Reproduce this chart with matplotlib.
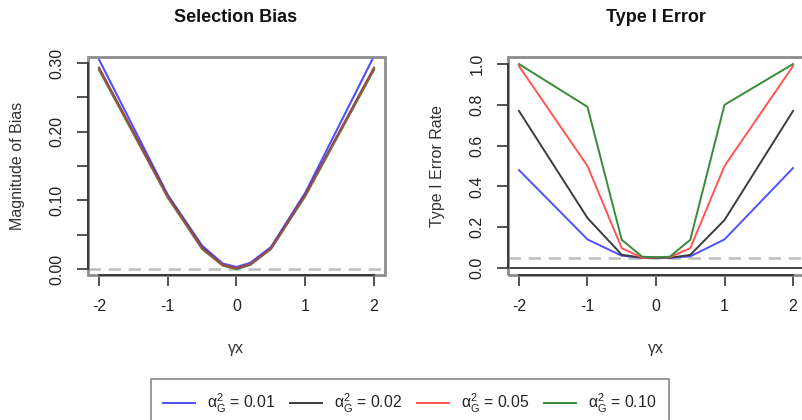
import numpy as np
import matplotlib
matplotlib.use("Agg")
import matplotlib.pyplot as plt
from matplotlib.patches import Rectangle

plt.rcParams['font.family'] = ['Liberation Sans', 'DejaVu Sans']
plt.rcParams['mathtext.fontset'] = 'custom'
plt.rcParams['mathtext.rm'] = 'Liberation Sans'
plt.rcParams['mathtext.it'] = 'Liberation Sans'

# Effect size of the exposure on selection
gamma_x = [-2, -1, -0.5, -0.2, 0, 0.2, 0.5, 1, 2]

# Selection bias magnitude, one series per alpha_G^2
bias_001 = [0.305, 0.108, 0.034, 0.008, 0.003, 0.009, 0.032, 0.111, 0.310]
bias_002 = [0.293, 0.106, 0.031, 0.006, 0.001, 0.007, 0.030, 0.108, 0.293]
bias_005 = [0.292, 0.105, 0.030, 0.006, 0.001, 0.007, 0.030, 0.107, 0.292]
bias_010 = [0.290, 0.104, 0.029, 0.005, 0.000, 0.006, 0.029, 0.106, 0.290]

# Type I error rate, one series per alpha_G^2
t1e_001 = [0.48, 0.14, 0.060, 0.050, 0.050, 0.050, 0.057, 0.14, 0.49]
t1e_002 = [0.77, 0.245, 0.065, 0.050, 0.050, 0.050, 0.064, 0.235, 0.77]
t1e_005 = [0.99, 0.50, 0.097, 0.050, 0.052, 0.053, 0.097, 0.50, 0.99]
t1e_010 = [1.00, 0.79, 0.138, 0.055, 0.053, 0.055, 0.138, 0.80, 1.00]

legend_labels = [r'$\mathrm{\alpha_G^2}$ = 0.01', r'$\mathrm{\alpha_G^2}$ = 0.02',
                 r'$\mathrm{\alpha_G^2}$ = 0.05', r'$\mathrm{\alpha_G^2}$ = 0.10']
colors = ['#5050ff', '#3c3c3c', '#ff5555', '#3a8a3a']

W, H = 803, 420
fig = plt.figure(figsize=(W / 100, H / 100), dpi=100)


def px_axes(x0, y0, x1, y1):
    return fig.add_axes([x0 / W, 1 - y1 / H, (x1 - x0) / W, (y1 - y0) / H])


ax1 = px_axes(88, 57, 385, 275)
ax2 = px_axes(508, 57, 804, 275)

axis_col = '#333333'
fs = 11.5


def style(ax, yticks, ylabels, ylo, yhi):
    ax.set_xlim(-2.16, 2.16)
    for s in ['top', 'right']:
        ax.spines[s].set_visible(False)
    for s in ['left', 'bottom']:
        ax.spines[s].set_color(axis_col)
        ax.spines[s].set_linewidth(1.3)
        ax.spines[s].set_zorder(5)
    ax.spines['bottom'].set_bounds(-2, 2)
    ax.spines['left'].set_bounds(ylo, yhi)
    ax.add_patch(Rectangle((0, 0), 1, 1, transform=ax.transAxes, fill=False,
                           edgecolor='#8c8c8c', lw=2.0, clip_on=False, zorder=4))
    ax.set_xticks([-2, -1, 0, 1, 2])
    ax.set_xticklabels(['-2', '-1', '0', '1', '2'])
    ax.set_yticks(yticks)
    ax.set_yticklabels(ylabels, rotation=90, va='center')
    ax.tick_params(axis='both', direction='out', length=8, width=1.2,
                   color=axis_col, labelsize=fs, labelcolor='#222222', pad=9)


# Left panel: selection bias (the three near-identical curves blend together)
ax1.plot(gamma_x, bias_001, color=colors[0], lw=1.5, solid_joinstyle='round')
ax1.plot(gamma_x, bias_010, color=colors[3], lw=1.5, solid_joinstyle='round')
ax1.plot(gamma_x, bias_002, color=colors[1], lw=1.5, solid_joinstyle='round')
ax1.plot(gamma_x, bias_005, color=colors[2], lw=1.5, solid_joinstyle='round',
         alpha=0.55)
ax1.axhline(0, color='#bdbdbd', lw=1.8, dashes=(5, 3), zorder=1)
ax1.set_ylim(-0.0087, 0.3087)
style(ax1, [0, 0.05, 0.10, 0.15, 0.20, 0.25, 0.30],
      ['0.00', '', '0.10', '', '0.20', '', '0.30'], 0, 0.30)

# Right panel: type I error
for y, c in zip([t1e_001, t1e_002, t1e_005, t1e_010], colors):
    ax2.plot(gamma_x, y, color=c, lw=1.4, solid_joinstyle='round')
ax2.axhline(0.05, color='#bdbdbd', lw=1.8, dashes=(5, 3), zorder=1)
ax2.axhline(0, color=axis_col, lw=1.3, zorder=2)
ax2.set_ylim(-0.0345, 1.0345)
style(ax2, [0, 0.2, 0.4, 0.6, 0.8, 1.0],
      ['0.0', '0.2', '0.4', '0.6', '0.8', '1.0'], 0, 1.0)

# Titles and axis labels
fig.text(236 / W, 1 - 17 / H, 'Selection Bias', ha='center', va='center',
         fontsize=13, fontweight='bold', color='#111111')
fig.text(656 / W, 1 - 17 / H, 'Type I Error', ha='center', va='center',
         fontsize=13, fontweight='bold', color='#111111')
fig.text(236 / W, 1 - 349 / H, 'γx', ha='center', va='center',
         fontsize=fs, color='#333333')
fig.text(656 / W, 1 - 349 / H, 'γx', ha='center', va='center',
         fontsize=fs, color='#333333')
fig.text(18 / W, 1 - 166 / H, 'Magnitude of Bias', ha='center', va='center',
         rotation=90, fontsize=fs, color='#333333')
fig.text(438 / W, 1 - 166 / H, 'Type I Error Rate', ha='center', va='center',
         rotation=90, fontsize=fs, color='#333333')

# Shared legend below the panels
handles = ax2.get_lines()[:4]
leg = fig.legend(handles, legend_labels, loc='upper center',
                 bbox_to_anchor=(410 / W, 1 - 379 / H), ncol=4,
                 fontsize=11.3, frameon=True, fancybox=False, edgecolor='#777777',
                 handlelength=2.0, handletextpad=0.8, columnspacing=0.95,
                 borderpad=0.8, borderaxespad=0)
leg.get_frame().set_linewidth(1.3)
for t in leg.get_texts():
    t.set_color('#222222')

fig.savefig('out.png', dpi=100)
